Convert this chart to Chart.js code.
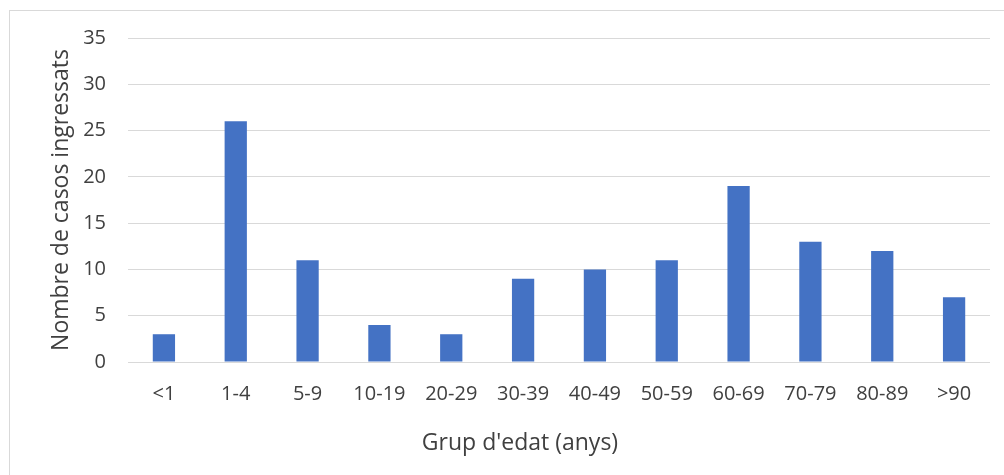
<!DOCTYPE html>
<html>
<head>
<meta charset="utf-8">
<script src="https://cdn.jsdelivr.net/npm/chart.js@4.4.0/dist/chart.umd.min.js"></script>
<style>
    html, body { margin: 0; padding: 0; background: #fff; }
    #wrap { position: relative; width: 1004px; height: 475px; overflow: hidden; }
    #frame { position: absolute; left: 9px; top: 10px; width: 1010px; height: 480px; border: 1px solid #d9d9d9; box-sizing: border-box; }
    canvas { position: absolute; left: 0; top: 0; }
    #xTitle { position: absolute; left: 320px; width: 400px; top: 427px; line-height: 28px; text-align: center;
              font-family: 'Open Sans', sans-serif; font-size: 23px; color: #404040; }
</style>
</head>
<body>
<div id="wrap">
    <div id="frame"></div>
    <canvas id="myChart" width="1004" height="475"></canvas>
    <div id="xTitle">Grup d'edat (anys)</div>
</div>
<script>
const categories = ['<1', '1-4', '5-9', '10-19', '20-29', '30-39', '40-49', '50-59', '60-69', '70-79', '80-89', '>90'];
const casos = [3, 26, 11, 4, 3, 9, 10, 11, 19, 13, 12, 7];
const yTicks = [0, 5, 10, 15, 20, 25, 30, 35];

const ctx = document.getElementById('myChart').getContext('2d');

new Chart(ctx, {
    type: 'bar',
    data: {
        labels: categories,
        datasets: [
            {
                label: 'Casos',
                data: casos,
                backgroundColor: '#4472c4',
                borderWidth: 0,
                barPercentage: 0.31,
                categoryPercentage: 1.0
            },
        ],
    },
    options: {
        responsive: false,
        animation: false,
        layout: {
            padding: { left: 48, right: 14, top: 38, bottom: 0 }
        },
        plugins: {
            legend: { display: false },
            tooltip: { enabled: false }
        },
        scales: {
            x: {
                grid: { display: false, drawTicks: false },
                border: { display: false },
                ticks: {
                    color: '#404040',
                    padding: 20,
                    maxRotation: 0,
                    font: { family: 'Open Sans', size: 20 }
                },
                // axis title is the #xTitle div, placed off-centre like the original
                afterFit: (scale) => { scale.height = 113; }
            },
            y: {
                min: 0,
                max: 35,
                afterBuildTicks: (scale) => { scale.ticks = yTicks.map((v) => ({ value: v })); },
                grid: { color: '#d9d9d9', lineWidth: 1, drawTicks: false },
                border: { display: false },
                ticks: {
                    color: '#404040',
                    padding: 22,
                    font: { family: 'Open Sans', size: 20 }
                },
                title: {
                    display: true,
                    text: 'Nombre de casos ingressats',
                    color: '#404040',
                    padding: { top: 0, bottom: 0 },
                    font: { family: 'Open Sans', size: 23 }
                },
                afterFit: (scale) => { scale.width = 80; }
            },
        },
    },
});
</script>
</body>
</html>
